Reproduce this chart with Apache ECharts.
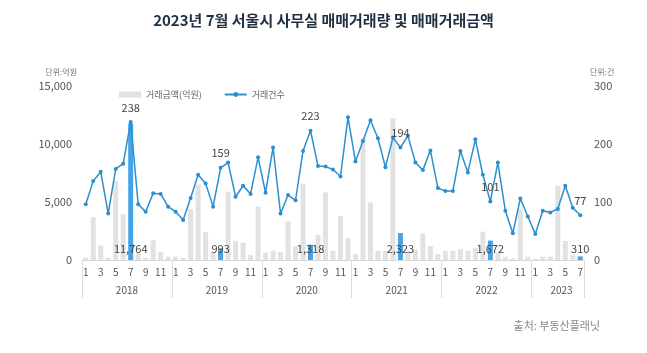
<!DOCTYPE html>
<html>
<head>
<meta charset="utf-8">
<script src="https://cdn.jsdelivr.net/npm/echarts@6/dist/echarts.min.js"></script>
<style>
  html, body { margin: 0; padding: 0; background: #fff; }
  #chart { width: 647px; height: 353px; }
</style>
</head>
<body>
<div id="chart"></div>
<script>
// 연도 / 월
var years = ['2018', '2019', '2020', '2021', '2022', '2023'];
var lastMonth = 7; // 2023년은 7월까지

// 거래금액(억원)
var amounts = [
  200, 3680, 1240, 200, 6810, 3940, 11764, 600, 200, 1700, 700, 270,
  300, 200, 4380, 6500, 2400, 680, 993, 5890, 1650, 1500, 420, 4600,
  630, 800, 690, 3350, 1180, 6580, 1318, 2160, 5830, 800, 3790, 1870,
  490, 10490, 4970, 790, 790, 12210, 2323, 700, 890, 2300, 1210, 520,
  790, 790, 920, 800, 1040, 2440, 1672, 600, 280, 140, 4400, 290,
  100, 290, 290, 6410, 1640, 420, 310
];

// 거래건수(건)
var counts = [
  96, 136, 152, 80, 157, 166, 238, 96, 83, 115, 114, 92,
  83, 69, 107, 147, 132, 92, 159, 168, 109, 128, 114, 177,
  116, 194, 80, 112, 103, 188, 223, 162, 161, 156, 144, 246,
  170, 205, 241, 210, 160, 211, 194, 214, 168, 155, 189, 124,
  119, 119, 188, 151, 208, 147, 101, 168, 85, 46, 106, 75,
  45, 85, 82, 88, 128, 90, 77
];

// 카테고리 만들기
var months = [];
var yearOf = [];
years.forEach(function (y, yi) {
  var n = (yi === years.length - 1) ? lastMonth : 12;
  for (var m = 1; m <= n; m++) {
    months.push(String(m));
    yearOf.push(y);
  }
});

var isJuly = function (i) { return months[i] === '7'; };

var barData = amounts.map(function (v, i) {
  if (!isJuly(i)) return v;
  return {
    value: v,
    itemStyle: { color: '#45a3e6' },
    label: {
      show: true,
      position: 'insideBottom',
      distance: 6,
      color: '#444',
      fontSize: 11,
      formatter: function (p) { return echarts.format.addCommas(p.value); }
    }
  };
});

var lineData = counts.map(function (v, i) {
  if (!isJuly(i)) return v;
  return {
    value: v,
    label: { show: true, position: 'top', distance: 7, color: '#444', fontSize: 11 }
  };
});

var chart = echarts.init(document.getElementById('chart'));
chart.setOption({
  backgroundColor: '#fff',
  animation: false,
  textStyle: { fontFamily: 'Noto Sans CJK KR' },
  title: [
    {
      text: '2023년 7월 서울시 사무실 매매거래량 및 매매거래금액',
      left: 'center',
      top: 8,
      textStyle: { fontSize: 15, fontWeight: 'bold', color: '#1f3042', fontFamily: 'Noto Sans CJK KR' }
    },
    {
      text: '출처: 부동산플래닛',
      right: 42,
      bottom: 17,
      textStyle: { fontSize: 11, fontWeight: 'normal', color: '#888', fontFamily: 'Noto Sans CJK KR' }
    }
  ],
  legend: {
    left: 114,
    top: 85,
    itemGap: 22,
    textStyle: { fontSize: 9, color: '#666' },
    data: [
      { name: '거래금액(억원)', icon: 'rect', itemStyle: { color: '#e2e2e2' } },
      { name: '거래건수' }
    ],
    itemWidth: 22,
    itemHeight: 6
  },
  grid: { left: 82, right: 63, top: 86, bottom: 93 },
  xAxis: [
    {
      type: 'category',
      data: months,
      position: 'bottom',
      axisLine: { show: true, lineStyle: { color: '#d6d6d6' } },
      axisTick: { show: false },
      axisLabel: { interval: 1, margin: 7, fontSize: 10, color: '#555' }
    },
    {
      // 연도 구분선 + 연도 라벨
      type: 'category',
      data: yearOf,
      position: 'bottom',
      axisLine: { show: false },
      axisTick: {
        show: true,
        length: 38,
        lineStyle: { color: '#dcdcdc' },
        interval: function (i) { return i === 0 || months[i] === '1'; }
      },
      axisLabel: {
        margin: 25,
        fontSize: 10,
        color: '#555',
        interval: function (i) {
          var last = yearOf[i] === years[years.length - 1];
          return last ? months[i] === '4' : months[i] === '7';
        },
        formatter: function (v, i) {
          return months[i] === '4' ? '{l|' + v + '}' : '{r|' + v + '}';
        },
        rich: {
          l: { padding: [0, 0, 0, 7.5], fontSize: 10, color: '#555' },
          r: { padding: [0, 7.5, 0, 0], fontSize: 10, color: '#555' }
        }
      }
    },
    {
      // 오른쪽 끝 구분선
      type: 'category',
      data: yearOf,
      position: 'bottom',
      inverse: true,
      axisLine: { show: false },
      axisLabel: { show: false },
      axisTick: {
        show: true,
        length: 38,
        lineStyle: { color: '#dcdcdc' },
        interval: function (i) { return i === 0; }
      }
    }
  ],
  yAxis: [
    {
      type: 'value',
      min: 0,
      max: 15000,
      interval: 5000,
      name: '단위:억원',
      nameLocation: 'end',
      nameGap: 10,
      nameTextStyle: { fontSize: 8, color: '#777', align: 'right', padding: [0, 5, 0, 0] },
      axisLine: { show: false },
      axisTick: { show: false },
      splitLine: { show: false },
      axisLabel: {
        margin: 10,
        fontSize: 11,
        color: '#555',
        formatter: function (v) { return echarts.format.addCommas(v); }
      }
    },
    {
      type: 'value',
      min: 0,
      max: 300,
      interval: 100,
      name: '단위:건',
      nameLocation: 'end',
      nameGap: 10,
      nameTextStyle: { fontSize: 8, color: '#777', align: 'left', padding: [0, 0, 0, 6] },
      axisLine: { show: false },
      axisTick: { show: false },
      splitLine: { show: false },
      axisLabel: { margin: 10, fontSize: 11, color: '#555' }
    }
  ],
  series: [
    {
      name: '거래금액(억원)',
      type: 'bar',
      xAxisIndex: 0,
      yAxisIndex: 0,
      barWidth: 5,
      itemStyle: { color: '#e2e2e2' },
      data: barData,
      z: 1
    },
    {
      name: '거래건수',
      type: 'line',
      xAxisIndex: 0,
      yAxisIndex: 1,
      symbol: 'circle',
      symbolSize: 4,
      itemStyle: { color: '#2b8fcf' },
      lineStyle: { color: '#2b8fcf', width: 1.5 },
      data: lineData,
      z: 3
    }
  ]
});
</script>
</body>
</html>
